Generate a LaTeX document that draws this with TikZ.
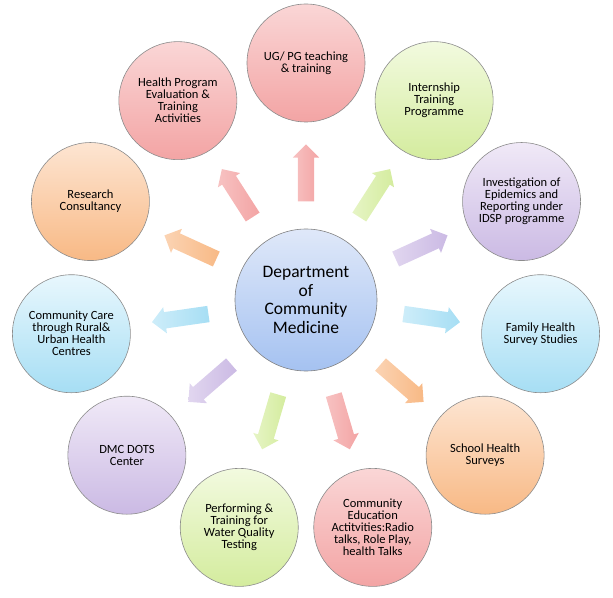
\documentclass[tikz,border=0pt]{standalone}
\usepackage{fontspec}
\setmainfont{Carlito}
\usepackage{tikz}
\usetikzlibrary{shapes.geometric, shapes.arrows, positioning}
\usepackage{xcolor}
\definecolor{redtop}{HTML}{FAD6D6}
\definecolor{redbot}{HTML}{F3A4A4}
\definecolor{greentop}{HTML}{F2FADF}
\definecolor{greenbot}{HTML}{D4EC9E}
\definecolor{purptop}{HTML}{F0E9F7}
\definecolor{purpbot}{HTML}{CBBAE4}
\definecolor{cyantop}{HTML}{E8F7FD}
\definecolor{cyanbot}{HTML}{A6DEF4}
\definecolor{orantop}{HTML}{FDE5D2}
\definecolor{oranbot}{HTML}{F8B985}
\definecolor{hubtop}{HTML}{DFE8F9}
\definecolor{hubbot}{HTML}{A5C2F1}

\begin{document}
\begin{tikzpicture}[x=1pt, y=1pt,
    every node/.style={align=center, text=black},
    hub/.style={circle, draw=black!50, line width=0.6pt, minimum size=142pt, inner sep=0pt, top color=hubtop, bottom color=hubbot, font=\fontsize{17.5}{18.5}\selectfont},
    topic/.style={circle, draw=black!45, line width=0.6pt, minimum size=118pt, inner sep=0pt, font=\fontsize{12.5}{12}\selectfont},
    redc/.style={topic, top color=redtop, bottom color=redbot},
    greenc/.style={topic, top color=greentop, bottom color=greenbot},
    purpc/.style={topic, top color=purptop, bottom color=purpbot},
    cyanc/.style={topic, top color=cyantop, bottom color=cyanbot},
    oranc/.style={topic, top color=orantop, bottom color=oranbot},
    spoke/.style={single arrow, draw=none, minimum height=57pt, single arrow head extend=5pt, inner xsep=0pt, inner ysep=8pt, font=\fontsize{1}{1}\selectfont},
]
\useasboundingbox (-306,-297) rectangle (307,300);

% Centre
\node[hub] (dept) at (0,0) {Department\\of\\Community\\Medicine};

% Outer circles, clockwise from top
\node[redc] (ugpg) at (90:237) {UG/ PG teaching\\\& training};
\node[greenc] (intern) at (57.27:237) {Internship\\Training\\Programme};
\node[purpc] (idsp) at (24.55:237) {Investigation of\\Epidemics and\\Reporting under\\IDSP programme};
\node[cyanc] (family) at (-8.18:237) {Family Health\\Survey Studies};
\node[oranc] (school) at (-40.91:237) {School Health\\Surveys};
\node[redc] (educ) at (-73.64:237) {Community\\Education\\Actitvities:Radio\\talks, Role Play,\\health Talks};
\node[greenc] (water) at (-106.36:237) {Performing \&\\Training for\\Water Quality\\Testing};
\node[purpc] (dots) at (-139.09:237) {DMC DOTS\\Center};
\node[cyanc] (care) at (-171.82:237) {Community Care\\through Rural\&\\Urban Health\\Centres};
\node[oranc] (research) at (155.45:237) {Research\\Consultancy};
\node[redc] (evalu) at (122.73:237) {Health Program\\Evaluation \&\\Training\\Activities};

% Block arrows from the centre
\node[spoke, left color=redtop!60!redbot, right color=redbot, rotate=90] (a1) at (90:123) {};
\node[spoke, left color=greentop!60!greenbot, right color=greenbot, rotate=57.27] (a2) at (57.27:123) {};
\node[spoke, left color=purptop!60!purpbot, right color=purpbot, rotate=24.55] (a3) at (24.55:123) {};
\node[spoke, left color=cyantop!60!cyanbot, right color=cyanbot, rotate=-8.18] (a4) at (-8.18:123) {};
\node[spoke, left color=orantop!60!oranbot, right color=oranbot, rotate=-40.91] (a5) at (-40.91:123) {};
\node[spoke, left color=redtop!60!redbot, right color=redbot, rotate=-73.64] (a6) at (-73.64:123) {};
\node[spoke, left color=greentop!60!greenbot, right color=greenbot, rotate=-106.36] (a7) at (-106.36:123) {};
\node[spoke, left color=purptop!60!purpbot, right color=purpbot, rotate=-139.09] (a8) at (-139.09:123) {};
\node[spoke, left color=cyantop!60!cyanbot, right color=cyanbot, rotate=-171.82] (a9) at (-171.82:123) {};
\node[spoke, left color=orantop!60!oranbot, right color=oranbot, rotate=155.45] (a10) at (155.45:123) {};
\node[spoke, left color=redtop!60!redbot, right color=redbot, rotate=122.73] (a11) at (122.73:123) {};
\end{tikzpicture}
\end{document}
